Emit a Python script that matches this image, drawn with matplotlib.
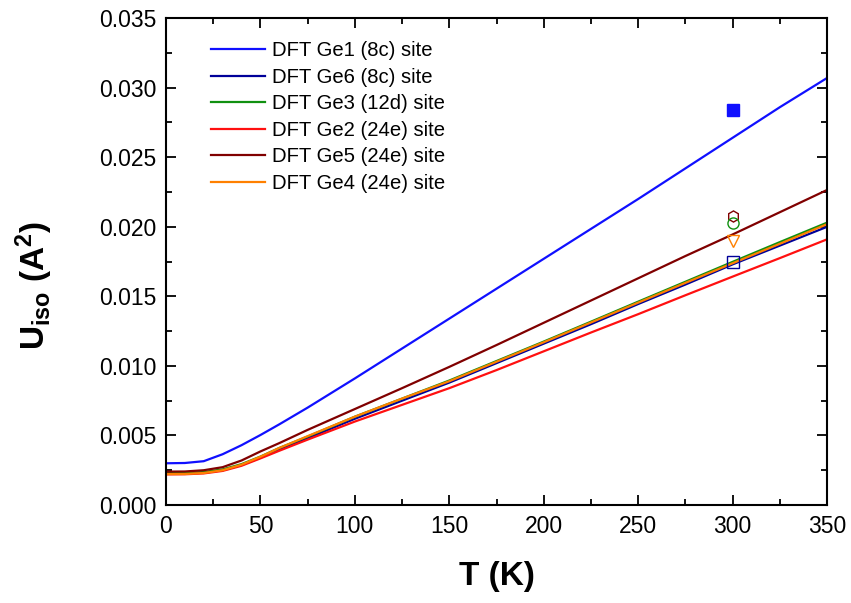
import matplotlib
matplotlib.use("Agg")
import matplotlib.pyplot as plt

plt.rcParams["font.family"] = ["Liberation Sans", "DejaVu Sans"]
plt.rcParams["mathtext.fontset"] = "custom"
plt.rcParams["mathtext.rm"] = "Liberation Sans"
plt.rcParams["mathtext.bf"] = "Liberation Sans:bold"

# Temperature grid (K) for the DFT curves
temps = [0, 10, 20, 30, 40, 50, 60, 75, 100, 125, 150, 175, 200, 225, 250, 275, 300, 325, 350]

# U_iso (A^2)
u_ge1 = [0.00300, 0.00302, 0.00315, 0.00365, 0.00430, 0.00503, 0.00580, 0.00700, 0.00910,
         0.01125, 0.01340, 0.01555, 0.01770, 0.01985, 0.02200, 0.02420, 0.02640, 0.02860, 0.03070]
u_ge6 = [0.00225, 0.00226, 0.00232, 0.00250, 0.00288, 0.00340, 0.00400, 0.00480, 0.00620,
         0.00750, 0.00880, 0.01020, 0.01160, 0.01300, 0.01445, 0.01585, 0.01730, 0.01865, 0.02000]
u_ge3 = [0.00230, 0.00231, 0.00237, 0.00256, 0.00294, 0.00348, 0.00410, 0.00492, 0.00635,
         0.00765, 0.00895, 0.01035, 0.01175, 0.01318, 0.01462, 0.01605, 0.01748, 0.01890, 0.02030]
u_ge2 = [0.00220, 0.00221, 0.00227, 0.00245, 0.00282, 0.00335, 0.00390, 0.00470, 0.00600,
         0.00720, 0.00840, 0.00970, 0.01105, 0.01240, 0.01372, 0.01508, 0.01642, 0.01775, 0.01910]
u_ge5 = [0.00240, 0.00241, 0.00250, 0.00272, 0.00320, 0.00385, 0.00445, 0.00540, 0.00690,
         0.00840, 0.00993, 0.01150, 0.01310, 0.01470, 0.01630, 0.01790, 0.01945, 0.02105, 0.02265]
u_ge4 = [0.00222, 0.00223, 0.00230, 0.00250, 0.00290, 0.00347, 0.00410, 0.00495, 0.00635,
         0.00765, 0.00890, 0.01030, 0.01170, 0.01312, 0.01455, 0.01597, 0.01738, 0.01878, 0.02019]

# Experimental points at 300 K
t_exp = [300]
u_exp_ge1 = [0.0284]
u_exp_ge5 = [0.0208]
u_exp_ge3 = [0.0203]
u_exp_ge4 = [0.0190]
u_exp_ge6 = [0.0175]

C_GE1, C_GE6, C_GE3, C_GE2, C_GE5, C_GE4 = (
    "#1010ff", "#000099", "#109010", "#ff1010", "#800000", "#ff8000"
)

fig = plt.figure(figsize=(8.51, 6.03), dpi=100)
ax = fig.add_axes([0.195, 0.1625, 0.777, 0.8075])

lw = 1.6
ax.plot(temps, u_ge1, color=C_GE1, lw=lw, label="DFT Ge1 (8c) site")
ax.plot(temps, u_ge6, color=C_GE6, lw=lw, label="DFT Ge6 (8c) site")
ax.plot(temps, u_ge3, color=C_GE3, lw=lw, label="DFT Ge3 (12d) site")
ax.plot(temps, u_ge2, color=C_GE2, lw=lw, label="DFT Ge2 (24e) site")
ax.plot(temps, u_ge5, color=C_GE5, lw=lw, label="DFT Ge5 (24e) site")
ax.plot(temps, u_ge4, color=C_GE4, lw=lw, label="DFT Ge4 (24e) site")

ax.plot(t_exp, u_exp_ge1, "s", color=C_GE1, ms=8)
ax.plot(t_exp, u_exp_ge5, "h", mfc="none", mec=C_GE5, ms=8, mew=1.0)
ax.plot(t_exp, u_exp_ge3, "o", mfc="none", mec=C_GE3, ms=8, mew=1.0)
ax.plot(t_exp, u_exp_ge4, "v", mfc="none", mec=C_GE4, ms=9, mew=1.0)
ax.plot(t_exp, u_exp_ge6, "s", mfc="none", mec=C_GE6, ms=8, mew=1.0)

ax.set_xlim(0, 350)
ax.set_ylim(0, 0.035)
ax.set_xticks(range(0, 351, 50))
ax.set_xticks(range(25, 351, 50), minor=True)
ax.set_yticks([i * 0.005 for i in range(8)])
ax.set_yticks([0.0025 + i * 0.005 for i in range(7)], minor=True)
ax.yaxis.set_major_formatter(matplotlib.ticker.FormatStrFormatter("%.3f"))

ax.tick_params(which="both", direction="in", top=True, right=True, labelsize=16.5, width=1.3)
ax.tick_params(which="major", length=7, pad=7)
ax.tick_params(which="minor", length=4)
for spine in ax.spines.values():
    spine.set_linewidth(1.5)

ax.set_xlabel("T (K)", fontsize=24, fontweight="bold")
ax.set_ylabel(r"$\mathbf{U_{iso}}$" + r" $\mathbf{(A^2)}$", fontsize=24)
ax.xaxis.set_label_coords(0.5, -0.115)
ax.yaxis.set_label_coords(-0.168, 0.45)

ax.legend(loc="upper left", bbox_to_anchor=(0.04, 0.99), frameon=False, fontsize=14.6,
          handlelength=2.7, handletextpad=0.35, labelspacing=0.37)

fig.savefig("out.png", dpi=100)
